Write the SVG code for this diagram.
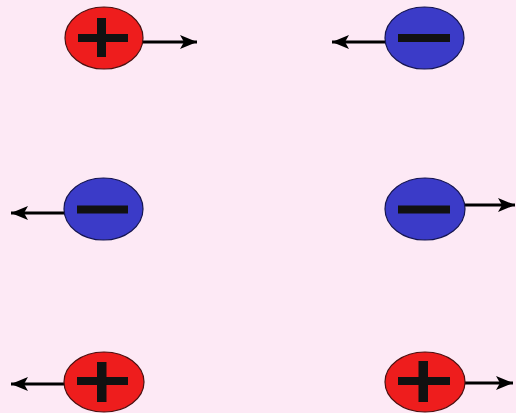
<svg xmlns="http://www.w3.org/2000/svg" width="516" height="413" viewBox="0 0 516 413">
<style>
.pos{fill:#ee1d1d;stroke:#4a1010;stroke-width:1.2}
.neg{fill:#3b3bc8;stroke:#141450;stroke-width:1.2}
.bar{fill:#111}
.arr{stroke:#000;stroke-width:3;fill:none;marker-end:url(#ah)}
</style>
<defs>
<marker id="ah" markerUnits="userSpaceOnUse" markerWidth="18" markerHeight="14" refX="17" refY="7" orient="auto">
<path d="M0,0 L17,7 L0,14 L4,7 Z" fill="#000"/>
</marker>
</defs>
<rect width="516" height="413" fill="#fde9f5"/>
<g id="connectors">
<line class="arr" x1="143" y1="42" x2="197" y2="42"/>
<line class="arr" x1="386" y1="42" x2="332" y2="42"/>
<line class="arr" x1="65" y1="213" x2="11" y2="213"/>
<line class="arr" x1="465" y1="205" x2="515" y2="205"/>
<line class="arr" x1="65" y1="384" x2="11" y2="384"/>
<line class="arr" x1="465" y1="383" x2="513" y2="383"/>
</g>
<g id="pos1">
<ellipse class="pos" cx="104" cy="38" rx="39" ry="31"/>
<rect class="bar" x="78" y="34" width="50" height="8"/>
<rect class="bar" x="97" y="18" width="9" height="39"/>
</g>
<g id="neg1">
<ellipse class="neg" cx="424.5" cy="38" rx="39.5" ry="31"/>
<rect class="bar" x="398" y="34" width="52" height="8"/>
</g>
<g id="neg2">
<ellipse class="neg" cx="103.5" cy="209" rx="39.5" ry="31"/>
<rect class="bar" x="77" y="205.5" width="51" height="8"/>
</g>
<g id="neg3">
<ellipse class="neg" cx="425" cy="209" rx="40" ry="31"/>
<rect class="bar" x="398" y="205.5" width="52" height="8"/>
</g>
<g id="pos2">
<ellipse class="pos" cx="104" cy="382" rx="40" ry="30"/>
<rect class="bar" x="77" y="377" width="51" height="8"/>
<rect class="bar" x="97" y="362" width="9.5" height="40"/>
</g>
<g id="pos3">
<ellipse class="pos" cx="425" cy="382" rx="40" ry="30"/>
<rect class="bar" x="398" y="377" width="52" height="8"/>
<rect class="bar" x="418.5" y="361" width="9.5" height="41"/>
</g>
</svg>
